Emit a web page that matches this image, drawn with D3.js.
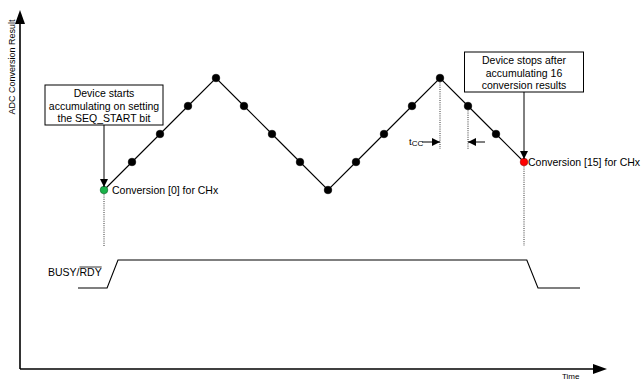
<!DOCTYPE html>
<html>
<head>
<meta charset="utf-8">
<script src="https://cdn.jsdelivr.net/npm/d3@7"></script>
<style>
  body { margin: 0; background: #fff; }
  svg { display: block; }
  text { font-family: "Liberation Sans", Arial, sans-serif; fill: #000; }
</style>
</head>
<body>
<div id="chart"></div>
<script>
// conversion index and accumulated step value for each result
var conversions = [0, 1, 2, 3, 4, 5, 6, 7, 8, 9, 10, 11, 12, 13, 14, 15];
var levels = [0, 1, 2, 3, 4, 3, 2, 1, 0, 1, 2, 3, 4, 3, 2, 1];

// BUSY/RDY edge times (in conversion periods) and logic state
var busyTimes = [-0.93, 0.11, 0.5, 15.1, 15.5, 17.0];
var busyStates = [0, 0, 1, 1, 0, 0];

var startNote = ["Device starts", "accumulating on setting", "the SEQ_START bit"];
var stopNote = ["Device stops after", "accumulating 16", "conversion results"];
var axisLabels = { y: "ADC Conversion Result", x: "Time" };

var width = 644, height = 381;

var svg = d3.select("#chart").append("svg")
    .attr("width", width)
    .attr("height", height);

var defs = svg.append("defs");
defs.append("marker")
    .attr("id", "head")
    .attr("viewBox", "0 0 10 10")
    .attr("refX", 10).attr("refY", 5)
    .attr("markerWidth", 8).attr("markerHeight", 8)
    .attr("markerUnits", "userSpaceOnUse")
    .attr("orient", "auto")
    .append("path").attr("d", "M0,0 L10,5 L0,10 Z").attr("fill", "#000");

var x = d3.scaleLinear().domain([0, 15]).range([104, 524]);
var y = d3.scaleLinear().domain([0, 4]).range([190, 78]);
var yBusy = d3.scaleLinear().domain([0, 1]).range([288, 260]);

// axes (no ticks, just arrows)
var ax = svg.append("g");
ax.append("line").attr("x1", 20).attr("y1", 369).attr("x2", 20).attr("y2", 23)
    .attr("stroke", "#000").attr("stroke-width", 1.6);
ax.append("path").attr("d", "M20,10 L15,24 L25,24 Z").attr("fill", "#000");
ax.append("line").attr("x1", 20).attr("y1", 369).attr("x2", 594).attr("y2", 369)
    .attr("stroke", "#000").attr("stroke-width", 1.6);
ax.append("path").attr("d", "M607,369 L593,364 L593,374 Z").attr("fill", "#000");

svg.append("text")
    .attr("transform", "translate(15,67) rotate(-90)")
    .attr("text-anchor", "middle")
    .style("font-size", "9px")
    .text(axisLabels.y);
svg.append("text")
    .attr("x", 562).attr("y", 378.5)
    .style("font-size", "8px")
    .text(axisLabels.x);

// dotted guides
var guides = [
    { x: x(0), y1: y(levels[0]), y2: 246 },
    { x: x(15), y1: y(levels[15]), y2: 246 },
    { x: x(12), y1: y(levels[12]), y2: 149 },
    { x: x(13), y1: y(levels[13]), y2: 149 }
];
svg.selectAll(".guide").data(guides).enter().append("line")
    .attr("class", "guide")
    .attr("x1", function (d) { return d.x; })
    .attr("x2", function (d) { return d.x; })
    .attr("y1", function (d) { return d.y1; })
    .attr("y2", function (d) { return d.y2; })
    .attr("stroke", "#000").attr("stroke-width", 0.8)
    .attr("stroke-dasharray", "1,1.2");

// the accumulation zig-zag
var line = d3.line()
    .x(function (d, i) { return x(conversions[i]); })
    .y(function (d) { return y(d); });
svg.append("path").datum(levels)
    .attr("d", line)
    .attr("fill", "none").attr("stroke", "#000").attr("stroke-width", 1.1);

svg.selectAll(".pt").data(levels).enter().append("circle")
    .attr("class", "pt")
    .attr("cx", function (d, i) { return x(conversions[i]); })
    .attr("cy", function (d) { return y(d); })
    .attr("r", 3.8)
    .attr("fill", function (d, i) {
        if (i === 0) return "#19b34a";
        if (i === conversions.length - 1) return "#f00";
        return "#000";
    })
    .attr("stroke", function (d, i) {
        return (i === 0) ? "#0a5a20" : ((i === conversions.length - 1) ? "#900" : "#000");
    })
    .attr("stroke-width", 0.6);

svg.append("text").attr("x", x(0) + 8).attr("y", y(levels[0]) + 4)
    .style("font-size", "10.5px").text("Conversion [0] for CHx");
svg.append("text").attr("x", x(15) + 4).attr("y", y(levels[15]) + 4)
    .style("font-size", "10.5px").text("Conversion [15] for CHx");

// callout boxes
function callout(lines, cx, top, w, target) {
    var h = 40;
    svg.append("rect").attr("x", cx - w / 2).attr("y", top)
        .attr("width", w).attr("height", h)
        .attr("fill", "#fff").attr("stroke", "#000").attr("stroke-width", 1);
    svg.selectAll(null).data(lines).enter().append("text")
        .attr("x", cx)
        .attr("y", function (d, i) { return top + 12 + i * 12.5; })
        .attr("text-anchor", "middle")
        .style("font-size", "10.5px")
        .text(function (d) { return d; });
    svg.append("line").attr("x1", cx).attr("y1", top + h)
        .attr("x2", cx).attr("y2", target - 3)
        .attr("stroke", "#000").attr("stroke-width", 1)
        .attr("marker-end", "url(#head)");
}
callout(startNote, x(0), 85, 118, y(levels[0]));
callout(stopNote, x(15), 52, 119, y(levels[15]));

// t_CC marker
var tcc = svg.append("text").attr("x", 409).attr("y", 145).style("font-size", "9.5px");
tcc.append("tspan").text("t");
tcc.append("tspan").attr("dy", 1).style("font-size", "8px").text("CC");
svg.append("line").attr("x1", 422).attr("y1", 142).attr("x2", x(12)).attr("y2", 142)
    .attr("stroke", "#000").attr("stroke-width", 1).attr("marker-end", "url(#head)");
svg.append("line").attr("x1", 485).attr("y1", 142).attr("x2", x(13)).attr("y2", 142)
    .attr("stroke", "#000").attr("stroke-width", 1).attr("marker-end", "url(#head)");

// BUSY/RDY waveform
var busyLine = d3.line()
    .x(function (d, i) { return x(busyTimes[i]); })
    .y(function (d) { return yBusy(d); });
svg.append("path").datum(busyStates)
    .attr("d", busyLine)
    .attr("fill", "none").attr("stroke", "#000").attr("stroke-width", 1.1);

var busyLbl = svg.append("text").attr("x", 48).attr("y", 276).style("font-size", "10.5px");
var t1 = busyLbl.append("tspan").text("BUSY/");
var t2 = busyLbl.append("tspan").text("RDY");
var w1 = t1.node().getComputedTextLength();
var w2 = t2.node().getComputedTextLength();
svg.append("line").attr("x1", 48 + w1).attr("x2", 48 + w1 + w2)
    .attr("y1", 267).attr("y2", 267)
    .attr("stroke", "#000").attr("stroke-width", 0.8);
</script>
</body>
</html>
